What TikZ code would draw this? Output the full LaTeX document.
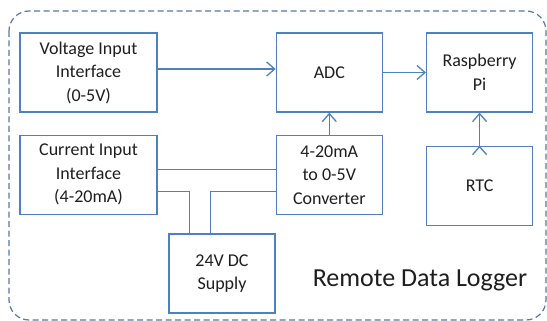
\documentclass[tikz,border=0pt]{standalone}
\usepackage{fontspec}
\setmainfont{Carlito}
\usetikzlibrary{arrows.meta,positioning}
\definecolor{boxblue}{HTML}{4F81BD}
\definecolor{frameblue}{HTML}{5A78A0}
\definecolor{textgray}{HTML}{1E1E1E}
\tikzset{>={Straight Barb[length=8pt,width=14pt]},shorten >=0pt,node distance=2cm}
\tikzset{block/.style={draw=boxblue,line width=1.3pt,align=center,text=textgray,
        font=\fontsize{18}{23.5}\selectfont,inner sep=0pt}}

\begin{document}
\begin{tikzpicture}[x=1pt,y=1pt,wire/.style={draw=boxblue,line width=1.3pt}]
                    \useasboundingbox (0,0) rectangle (547,-321);
                    \tikzset{wide/.style={block,minimum width=137pt,minimum height=79pt},
                             narrow/.style={block,minimum width=106pt,minimum height=79pt}}
                    % outer frame
                    \draw[frameblue,line width=1.2pt,dash pattern=on 6pt off 3.5pt,rounded corners=20pt]
                        (9,-11) rectangle (546,-320);

                        \node[wide] (volt) at (88.5,-72.5) {Voltage Input\\Interface\\(0-5V)};
                        \node[wide] (cur) [below=22pt of volt] {Current Input\\Interface\\(4-20mA)};
                        \node[narrow] (adc) [right=118pt of volt] {ADC};
                        \node[narrow] (conv) [below=22pt of adc] {4-20mA\\to 0-5V\\Converter};
                        \node[narrow] (rpi) [right=43pt of adc] {Raspberry\\Pi};
                        \node[narrow] (rtc) [below=33pt of rpi] {RTC};
                        \node[narrow] (psu) at (222,-273.5) {24V DC\\Supply};
                        \node[text=textgray,font=\fontsize{26}{30}\selectfont] (title) at (420,-280) {Remote Data Logger};

                    \path[wire,->]
                            ([yshift=3.5pt]volt.east) edge ([yshift=3.5pt]adc.west)
                            (adc.east) edge (rpi.west)
                            (conv.north) edge (adc.south)
                            (rtc.north) edge (rpi.south)
                            ;
                    \draw[wire] ([yshift=5pt]cur.east) -- ([yshift=5pt]conv.west);
                    \draw[wire] ([yshift=-17pt]cur.east) -| ([xshift=21pt]psu.north west);
                    \draw[wire] ([yshift=-17pt]conv.west) -| ([xshift=42pt]psu.north west);
                    \end{tikzpicture}
\end{document}
